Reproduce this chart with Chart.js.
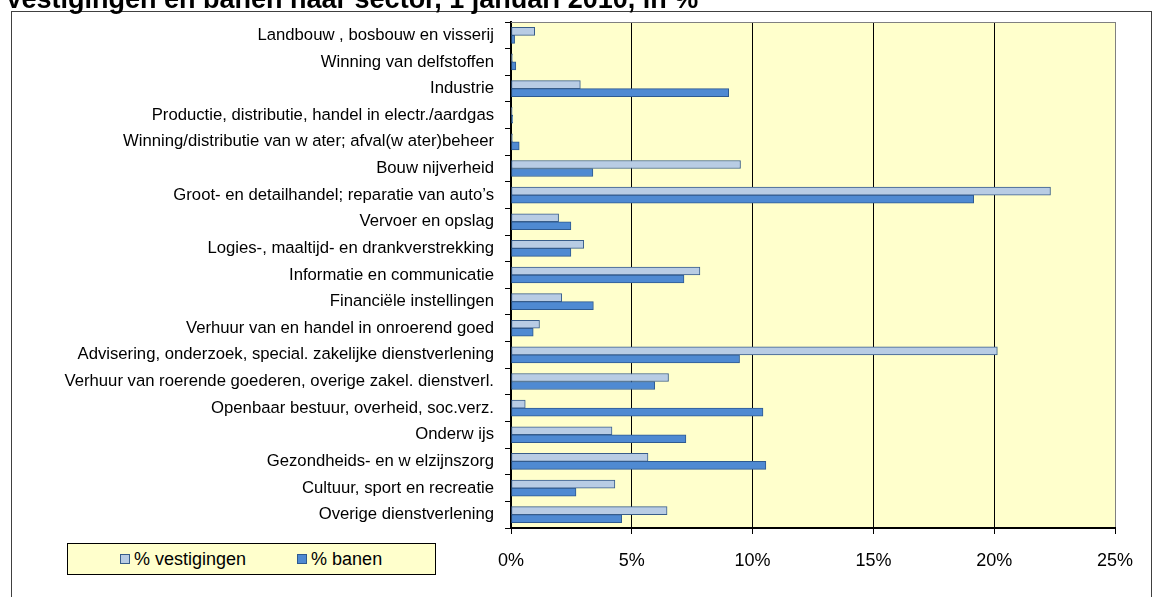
<!DOCTYPE html>
<html>
<head>
<meta charset="utf-8">
<script src="https://cdn.jsdelivr.net/npm/chart.js@4"></script>
<style>
  html, body { margin: 0; padding: 0; background: #fff; overflow: hidden; }
  #wrap { position: relative; width: 1154px; height: 597px; }
  #legend {
    position: absolute; left: 67px; top: 543px; width: 369px; height: 32px;
    background: #FFFFCC; border: 1px solid #000; box-sizing: border-box;
    display: flex; align-items: center; padding-left: 52px;
    font: 18px Arial, "Liberation Sans", sans-serif; color: #000;
  }
  #legend .item { display: flex; align-items: center; margin-right: 51px; }
  #legend .sw { width: 8px; height: 8px; border: 1px solid #385D8A; margin-right: 4px; }
</style>
</head>
<body>
<div id="wrap">
  <canvas id="chart"></canvas>
  <div id="legend"></div>
</div>
<script>
/* ================================================
   DATA
================================================ */
const TITLE = 'Vestigingen en banen naar sector, 1 januari 2010, in %';

const sectors = [
  'Landbouw , bosbouw en visserij',
  'Winning van delfstoffen',
  'Industrie',
  'Productie, distributie, handel in electr./aardgas',
  'Winning/distributie van w ater; afval(w ater)beheer',
  'Bouw nijverheid',
  'Groot- en detailhandel; reparatie van auto’s',
  'Vervoer en opslag',
  'Logies-, maaltijd- en drankverstrekking',
  'Informatie en communicatie',
  'Financiële instellingen',
  'Verhuur van en handel in onroerend goed',
  'Advisering, onderzoek, special. zakelijke dienstverlening',
  'Verhuur van roerende goederen, overige zakel. dienstverl.',
  'Openbaar bestuur, overheid, soc.verz.',
  'Onderw ijs',
  'Gezondheids- en w elzijnszorg',
  'Cultuur, sport en recreatie',
  'Overige dienstverlening',
];

const pctVestigingen = [0.98, 0.06, 2.87, 0.05, 0.06, 9.50, 22.33, 1.97, 3.01, 7.82, 2.10, 1.18, 20.13, 6.52, 0.59, 4.18, 5.67, 4.30, 6.46];
const pctBanen       = [0.15, 0.20, 9.01, 0.07, 0.34, 3.39, 19.15, 2.48, 2.48, 7.16, 3.41, 0.92, 9.46, 5.95, 10.43, 7.24, 10.55, 2.69, 4.58];

const seriesNames = ['% vestigingen', '% banen'];
const xTickValues = [0, 5, 10, 15, 20, 25];

/* ================================================
   STYLE
================================================ */
const FONT = 'Arial, "Liberation Sans", sans-serif';
const LIGHT = { fill: '#B8CCE4', line: '#385D8A' };
const DARK  = { fill: '#4F8AD2', line: '#2E5A90' };

/* plot background, top border, outer frame, title */
const decorPlugin = {
  id: 'decor',
  beforeDraw(chart) {
    const { ctx, chartArea: a } = chart;
    ctx.save();
    ctx.fillStyle = '#FFFFCC';
    ctx.fillRect(a.left, a.top, a.right - a.left, a.bottom - a.top);
    ctx.restore();
  },
  beforeDatasetsDraw(chart) {
    const { ctx, chartArea: a } = chart;
    ctx.save();
    ctx.strokeStyle = '#808080';
    ctx.lineWidth = 1;
    ctx.beginPath();
    ctx.moveTo(a.left, a.top + 0.5);
    ctx.lineTo(a.right, a.top + 0.5);
    ctx.stroke();
    ctx.restore();
  },
  afterDraw(chart) {
    const ctx = chart.ctx;
    ctx.save();
    ctx.strokeStyle = '#404040';
    ctx.lineWidth = 1;
    ctx.strokeRect(11.5, 11.5, 1140, 620);
    ctx.fillStyle = '#000';
    ctx.font = 'bold 27px ' + FONT;
    ctx.textBaseline = 'alphabetic';
    ctx.textAlign = 'left';
    ctx.fillText(TITLE, 5, 8);
    ctx.restore();
  },
};

const chart = new Chart(document.getElementById('chart'), {
  type: 'bar',
  data: {
    labels: sectors,
    datasets: [
      {
        label: seriesNames[0],
        data: pctVestigingen,
        backgroundColor: LIGHT.fill,
        borderColor: LIGHT.line,
        borderWidth: 1,
        borderSkipped: false,
        barThickness: 8,
      },
      {
        label: seriesNames[1],
        data: pctBanen,
        backgroundColor: DARK.fill,
        borderColor: DARK.line,
        borderWidth: 1,
        borderSkipped: false,
        barThickness: 8,
      },
    ],
  },
  options: {
    indexAxis: 'y',
    responsive: true,
    maintainAspectRatio: false,
    animation: false,
    layout: { padding: { top: 22, right: 39, left: 0, bottom: 0 } },
    plugins: {
      legend: { display: false },
      title: { display: false },
      tooltip: { enabled: false },
    },
    scales: {
      x: {
        type: 'linear',
        min: 0,
        max: 25,
        afterBuildTicks: s => { s.ticks = xTickValues.map(v => ({ value: v })); },
        afterFit: s => { s.height = 69; },
        ticks: {
          color: '#000',
          font: { family: FONT, size: 18 },
          padding: 16,
          callback: v => v + '%',
        },
        grid: {
          color: c => (c.tick && c.tick.value === 25 ? '#808080' : '#000'),
          tickColor: '#000',
          tickLength: 6,
          lineWidth: 1,
        },
        border: { display: true, color: '#000', width: 2 },
      },
      y: {
        type: 'category',
        afterFit: s => { s.width = 511; },
        ticks: {
          color: '#000',
          font: { family: FONT, size: 16.7 },
          padding: 11,
          autoSkip: false,
        },
        grid: {
          offset: true,
          drawOnChartArea: false,
          color: '#000',
          tickLength: 6,
          lineWidth: 1,
        },
        border: { display: true, color: '#000', width: 2 },
      },
    },
  },
  plugins: [decorPlugin],
});

/* legend built from the datasets */
const legendEl = document.getElementById('legend');
chart.data.datasets.forEach(ds => {
  const item = document.createElement('div');
  item.className = 'item';
  const sw = document.createElement('span');
  sw.className = 'sw';
  sw.style.background = ds.backgroundColor;
  sw.style.borderColor = ds.borderColor;
  const txt = document.createElement('span');
  txt.textContent = ds.label;
  item.appendChild(sw);
  item.appendChild(txt);
  legendEl.appendChild(item);
});
</script>
</body>
</html>
